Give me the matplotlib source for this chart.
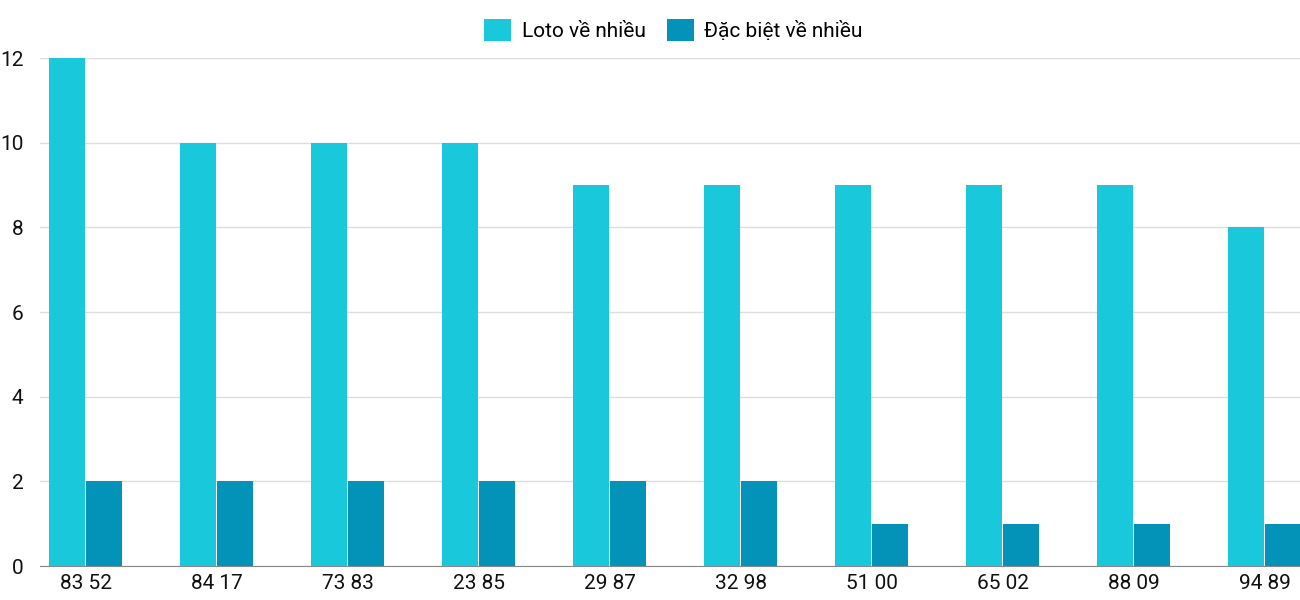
import matplotlib
matplotlib.use("Agg")
from matplotlib import pyplot as plt
import numpy as np

plt.rcParams['font.family'] = ['Roboto', 'DejaVu Sans']

categories = ["83 52", "84 17", "73 83", "23 85", "29 87", "32 98", "51 00", "65 02", "88 09", "94 89"]
loto = [12, 10, 10, 10, 9, 9, 9, 9, 9, 8]
dac_biet = [2, 2, 2, 2, 2, 2, 1, 1, 1, 1]

c_loto = "#1ac8db"
c_db = "#0493b8"

fig = plt.figure(figsize=(13, 6), dpi=100)
ax = fig.add_axes([40/1300, 1-566/600, 1260/1300, (566-58)/600])

x = np.arange(len(categories))
w = 36/131
ax.bar(x - 19/131, loto, width=w, color=c_loto, label="Loto về nhiều", zorder=3)
ax.bar(x + 18/131, dac_biet, width=w, color=c_db, label="Đặc biệt về nhiều", zorder=3)

ax.set_xlim(-46/131, 9 + 35/131)
ax.set_ylim(0, 12)
ax.set_yticks(range(0, 13, 2))
ax.set_xticks(x)
ax.set_xticklabels(categories)
ax.tick_params(axis='both', length=0, labelsize=15, colors="#111111")
ax.tick_params(axis='y', pad=12)
ax.tick_params(axis='x', pad=6)
ax.yaxis.grid(True, color="#dddddd", linewidth=1, zorder=0)
for s in ["top", "right", "left"]:
    ax.spines[s].set_visible(False)
ax.spines["bottom"].set_color("#888888")

fig.legend(loc="upper center", bbox_to_anchor=(0.518, 1.0), ncol=2, frameon=False,
           fontsize=15, handlelength=1.3, handleheight=1.3, columnspacing=1.0, handletextpad=0.5)

fig.savefig("out.png", dpi=100)
